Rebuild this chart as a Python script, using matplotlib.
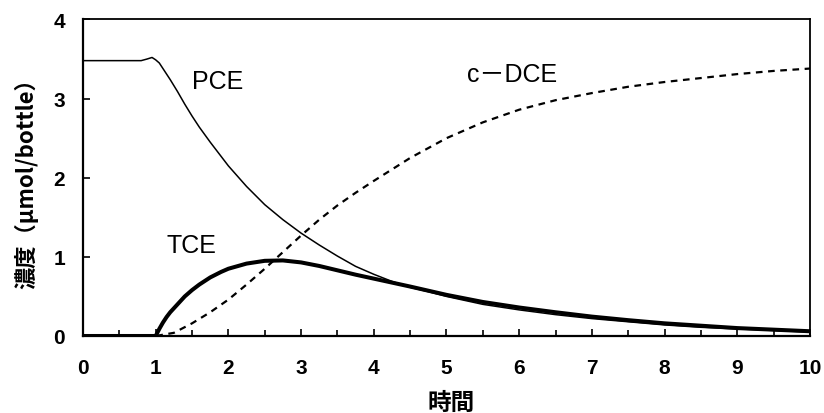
import matplotlib
matplotlib.use('Agg')
import matplotlib.pyplot as plt
from matplotlib.ticker import MultipleLocator

# concentrations read per sampling time [umol/bottle]
t_pce = [0, 0.8, 0.88, 0.95, 1.0, 1.05, 1.1, 1.15, 1.2, 1.3, 1.4, 1.5, 1.6, 1.75, 1.9,
         2.0, 2.25, 2.5, 2.75, 3.0, 3.25, 3.5, 3.75, 4.0, 4.25, 4.5, 4.75, 5.0, 5.5, 6.0,
         6.5, 7.0, 7.5, 8.0, 8.5, 9.0, 9.5, 10.0]
pce = [3.48, 3.48, 3.50, 3.52, 3.49, 3.45, 3.38, 3.31, 3.24, 3.09, 2.93, 2.78, 2.64, 2.45, 2.27,
       2.15, 1.89, 1.66, 1.47, 1.30, 1.15, 1.01, 0.88, 0.78, 0.69, 0.615, 0.56, 0.50, 0.40, 0.33,
       0.27, 0.22, 0.18, 0.14, 0.11, 0.09, 0.07, 0.05]

t_tce = [0, 1.0, 1.05, 1.1, 1.15, 1.2, 1.3, 1.4, 1.5, 1.6, 1.75, 1.9, 2.0, 2.25, 2.5,
         2.75, 3.0, 3.25, 3.5, 3.75, 4.0, 4.25, 4.5, 5.0, 5.5, 6.0, 6.5, 7.0, 7.5, 8.0, 8.5,
         9.0, 9.5, 10.0]
tce = [0, 0, 0.09, 0.17, 0.24, 0.30, 0.40, 0.50, 0.58, 0.65, 0.74, 0.81, 0.85, 0.915, 0.95,
       0.955, 0.93, 0.885, 0.83, 0.775, 0.725, 0.675, 0.625, 0.52, 0.43, 0.36, 0.30, 0.245, 0.20, 0.16, 0.13,
       0.10, 0.08, 0.06]

t_dce = [0, 1.0, 1.25, 1.5, 1.75, 2.0, 2.25, 2.5, 2.75, 3.0, 3.25, 3.5, 3.75, 4.0, 4.5,
         5.0, 5.5, 6.0, 6.5, 7.0, 7.5, 8.0, 8.5, 9.0, 9.5, 10.0]
dce = [0, 0, 0.04, 0.16, 0.30, 0.46, 0.65, 0.85, 1.06, 1.27, 1.47, 1.65, 1.81, 1.96, 2.25,
       2.50, 2.70, 2.86, 2.98, 3.07, 3.15, 3.21, 3.26, 3.31, 3.35, 3.38]

jp = ['Noto Sans CJK JP', 'DejaVu Sans']
num = ['Liberation Sans', 'Noto Sans CJK JP']

fig = plt.figure(figsize=(8.24, 4.14), dpi=100)
ax = fig.add_axes([0.1007, 0.186, 0.8823, 0.7645])

ax.plot(t_pce, pce, color='black', lw=1.1, solid_joinstyle='round')
ax.plot(t_tce, tce, color='black', lw=2.9, solid_capstyle='butt', solid_joinstyle='round')
ax.plot(t_dce, dce, color='black', lw=1.6, linestyle=(0, (3, 2.5)))

ax.set_xlim(0, 10)
ax.set_ylim(0, 4)
ax.xaxis.set_major_locator(MultipleLocator(1))
ax.xaxis.set_minor_locator(MultipleLocator(0.5))
ax.yaxis.set_major_locator(MultipleLocator(1))
ax.tick_params(axis='x', which='major', direction='in', length=5, width=1.2, pad=16)
ax.tick_params(axis='x', which='minor', direction='in', length=4, width=1.2)
ax.tick_params(axis='y', which='major', direction='in', length=5, width=1.2, pad=13)
for lbl in ax.get_xticklabels() + ax.get_yticklabels():
    lbl.set_family(num)
    lbl.set_fontsize(15)
    lbl.set_fontweight('bold')
for side in ['left', 'bottom']:
    ax.spines[side].set_linewidth(1.6)
for side in ['top', 'right']:
    ax.spines[side].set_linewidth(1.3)

ax.text(1.5, 3.14, 'PCE', family=num, fontsize=18)
ax.text(1.15, 1.06, 'TCE', family=num, fontsize=18)
ax.text(5.28, 3.22, 'c－DCE', family=num, fontsize=18)

fig.text(0.032, 0.57, '濃度（μmol/bottle）', family=jp, fontsize=16, fontweight='bold',
         rotation=90, ha='center', va='center')
fig.text(0.548, 0.027, '時間', family=jp, fontsize=17, fontweight='bold',
         ha='center', va='center')

fig.savefig('out.png', dpi=100)
